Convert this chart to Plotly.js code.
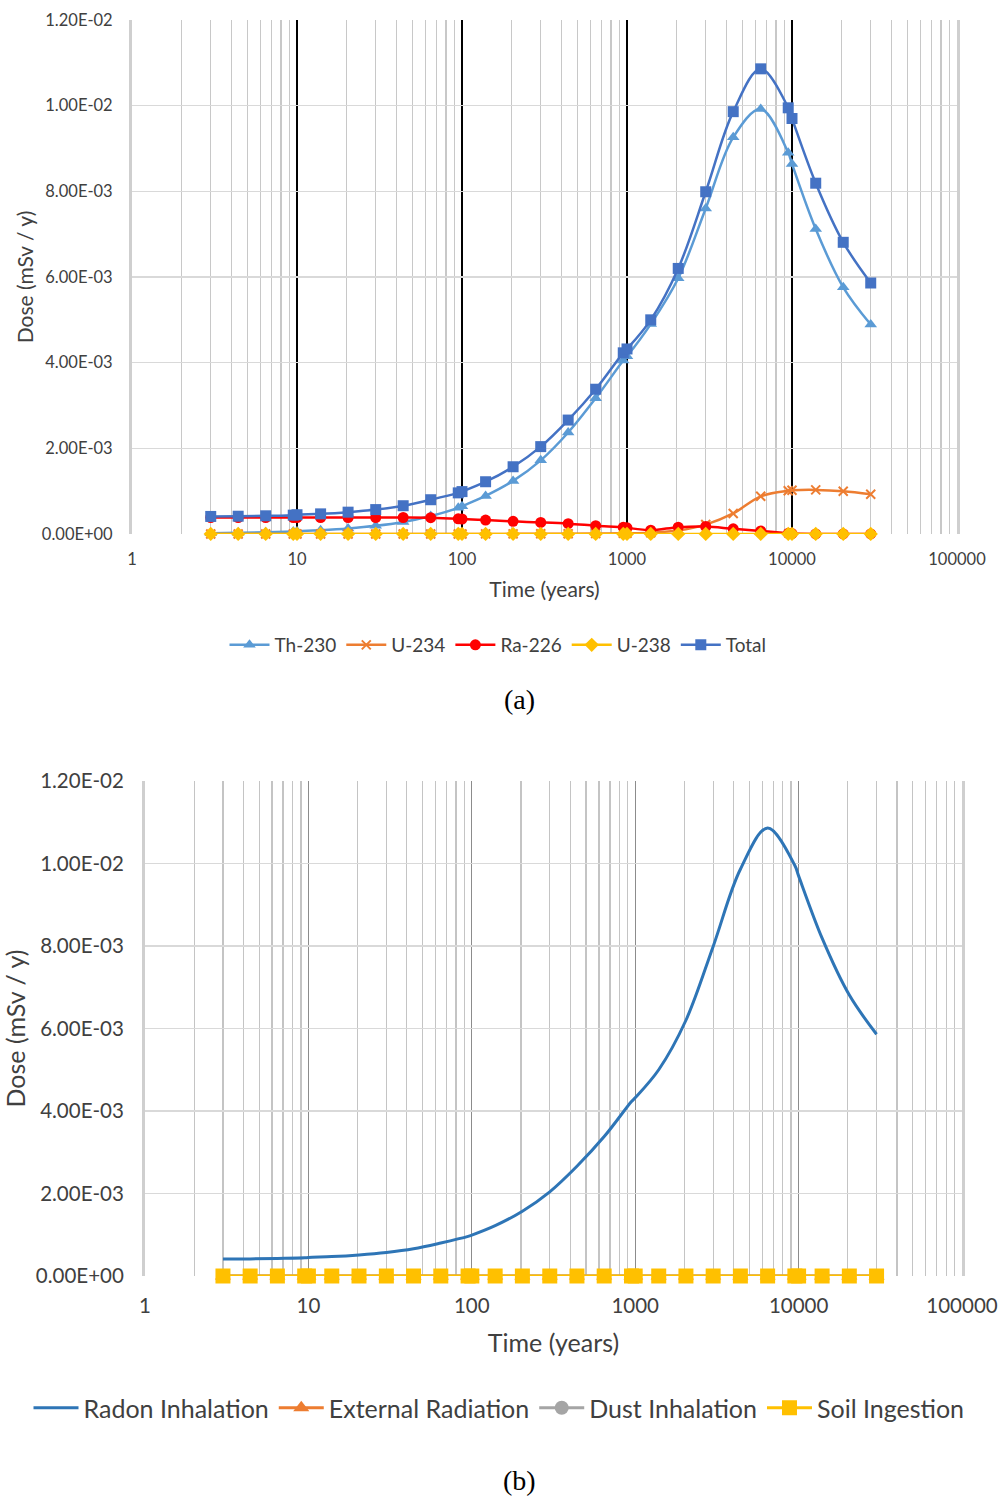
<!DOCTYPE html>
<html>
<head>
<meta charset="utf-8">
<script src="https://cdn.plot.ly/plotly-3.0.1.min.js"></script>
<style>
  html, body { margin: 0; padding: 0; background: #ffffff; }
  #chart { width: 998px; height: 1497px; }
</style>
</head>
<body>
<div id="chart"></div>
<script>
// Time points (years) shared by every series
const timeYears = [3, 4.4, 6.46, 9.49, 10, 13.9, 20.4, 30, 44, 64.6, 94.9, 100, 139, 204, 300,
  440, 646, 949, 1000, 1393, 2044, 3000, 4403, 6463, 9487, 10000, 13925, 20440, 30000];

// (a) dose by nuclide, mSv/y
const th230 = [2e-5, 3e-5, 4e-5, 6e-5, 6.5e-5, 9e-5, 1.3e-4, 1.9e-4, 2.8e-4, 4.2e-4, 6.1e-4, 6.5e-4,
  8.9e-4, 1.24e-3, 1.72e-3, 2.37e-3, 3.17e-3, 4.05e-3, 4.15e-3, 4.9e-3, 5.97e-3, 7.6e-3, 9.26e-3,
  9.92e-3, 8.9e-3, 8.64e-3, 7.12e-3, 5.76e-3, 4.89e-3];
const u234 = [0, 0, 0, 0, 0, 0, 0, 0, 0, 0, 1e-6, 1e-6, 2e-6, 3e-6, 4e-6, 6e-6, 1e-5, 1.6e-5, 1.7e-5,
  3e-5, 8e-5, 2.2e-4, 4.8e-4, 8.8e-4, 1.01e-3, 1.02e-3, 1.03e-3, 1.0e-3, 9.3e-4];
const ra226 = [3.85e-4, 3.85e-4, 3.85e-4, 3.85e-4, 3.85e-4, 3.85e-4, 3.85e-4, 3.85e-4, 3.85e-4, 3.8e-4,
  3.55e-4, 3.5e-4, 3.25e-4, 2.95e-4, 2.7e-4, 2.4e-4, 1.95e-4, 1.55e-4, 1.45e-4, 9e-5, 1.6e-4,
  1.75e-4, 1.2e-4, 7e-5, 1.5e-5, 1e-5, 2e-6, 1e-6, 1e-6];
const u238 = [2e-6, 2e-6, 2e-6, 2e-6, 2e-6, 2e-6, 2e-6, 2e-6, 2e-6, 2e-6, 2e-6, 2e-6, 2e-6, 2e-6, 2e-6,
  2e-6, 2e-6, 2e-6, 2e-6, 2e-6, 2e-6, 2e-6, 2e-6, 2e-6, 2e-6, 2e-6, 2e-6, 2e-6, 2e-6];
const total = [4.1e-4, 4.15e-4, 4.25e-4, 4.4e-4, 4.5e-4, 4.7e-4, 5.1e-4, 5.7e-4, 6.6e-4, 8.0e-4, 9.6e-4,
  9.9e-4, 1.22e-3, 1.57e-3, 2.04e-3, 2.66e-3, 3.38e-3, 4.23e-3, 4.32e-3, 5.0e-3, 6.2e-3, 7.99e-3,
  9.86e-3, 1.086e-2, 9.95e-3, 9.7e-3, 8.19e-3, 6.81e-3, 5.86e-3];

// (b) dose by pathway, mSv/y
const radonInhalation = [4.1e-4, 4.15e-4, 4.25e-4, 4.4e-4, 4.5e-4, 4.7e-4, 5.1e-4, 5.7e-4, 6.6e-4,
  8.0e-4, 9.6e-4, 9.9e-4, 1.22e-3, 1.57e-3, 2.04e-3, 2.66e-3, 3.38e-3, 4.23e-3, 4.32e-3, 5.0e-3,
  6.2e-3, 7.99e-3, 9.86e-3, 1.086e-2, 9.95e-3, 9.7e-3, 8.19e-3, 6.81e-3, 5.86e-3];
const externalRadiation = [0, 0, 0, 0, 0, 0, 0, 0, 0, 0, 0, 0, 0, 0, 0, 0, 0, 0, 0, 0, 0, 0, 0, 0, 0, 0, 0, 0, 0];
const dustInhalation = [0, 0, 0, 0, 0, 0, 0, 0, 0, 0, 0, 0, 0, 0, 0, 0, 0, 0, 0, 0, 0, 0, 0, 0, 0, 0, 0, 0, 0];
const soilIngestion = [0, 0, 0, 0, 0, 0, 0, 0, 0, 0, 0, 0, 0, 0, 0, 0, 0, 0, 0, 0, 0, 0, 0, 0, 0, 0, 0, 0, 0];

// Axis ticks
const doseTicks = [0, 0.002, 0.004, 0.006, 0.008, 0.010, 0.012];
const doseTickText = ['0.00E+00', '2.00E-03', '4.00E-03', '6.00E-03', '8.00E-03', '1.00E-02', '1.20E-02'];
const decadeTicks = [1, 10, 100, 1000, 10000, 100000];
const decadeTickText = ['1', '10', '100', '1000', '10000', '100000'];

// 2..9 x 10^n positions between the decades (minor grid)
const minorVals = [];
decadeTicks.slice(0, -1).forEach(d => {
  for (let k = 2; k <= 9; k++) minorVals.push(k * d);
});

const FONT = 'Lato, "Open Sans", sans-serif';
const W = 998, H = 1497;
const px = v => v / W;
const py = v => 1 - v / H;

function series(name, y, color, symbol, size, xa, ya, legend, mode, width) {
  return {
    type: 'scatter', mode: mode || 'lines+markers', name: name,
    x: timeYears, y: y, xaxis: xa, yaxis: ya, legend: legend, cliponaxis: false,
    line: { color: color, width: width || 2.5, shape: 'spline', smoothing: 1 },
    marker: { color: color, symbol: symbol, size: size, line: { width: symbol === 'x-thin' ? 2 : 0, color: color } }
  };
}

const traces = [
  series('Th-230', th230, '#5B9BD5', 'triangle-up', 11, 'x', 'y', 'legend'),
  series('U-234', u234, '#ED7D31', 'x-thin', 9, 'x', 'y', 'legend'),
  series('Ra-226', ra226, '#FF0000', 'circle', 11, 'x', 'y', 'legend'),
  series('U-238', u238, '#FFC000', 'diamond', 11, 'x', 'y', 'legend'),
  series('Total', total, '#4472C4', 'square', 11, 'x', 'y', 'legend'),

  series('Radon Inhalation', radonInhalation, '#2E75B6', 'circle', 0, 'x2', 'y2', 'legend2', 'lines', 3),
  series('External Radiation', externalRadiation, '#ED7D31', 'triangle-up', 14, 'x2', 'y2', 'legend2', 'lines+markers', 3),
  series('Dust Inhalation', dustInhalation, '#A5A5A5', 'circle', 14, 'x2', 'y2', 'legend2', 'lines+markers', 3),
  series('Soil Ingestion', soilIngestion, '#FFC000', 'square', 15, 'x2', 'y2', 'legend2', 'lines+markers', 3)
];

// Log time axis: decade grid in a strong colour, 2..9 grid lighter
const timeAxis = (dom, anchor, size, majorColor, minorColor, title, titleSize, standoff, labelGap) => ({
  type: 'log', range: [0, 5], domain: dom, anchor: anchor,
  tickmode: 'array', tickvals: decadeTicks, ticktext: decadeTickText,
  showgrid: true, gridcolor: majorColor, gridwidth: 1.4,
  minor: { tickmode: 'array', tickvals: minorVals, showgrid: true, gridcolor: minorColor, gridwidth: 1.3, ticks: '' },
  zeroline: false, showline: false, ticks: '', ticklabelstandoff: labelGap,
  tickfont: { family: FONT, size: size, color: '#404040' },
  title: { text: title, font: { family: FONT, size: titleSize, color: '#404040' }, standoff: standoff },
  automargin: false
});
// Dose axis; its mirrored side lines form the light left/right frame
const doseAxis = (dom, anchor, size, title, titleSize, standoff, labelGap) => ({
  range: [0, 0.012], domain: dom, anchor: anchor,
  tickmode: 'array', tickvals: doseTicks, ticktext: doseTickText,
  showgrid: true, gridcolor: '#D9D9D9', gridwidth: 1.3,
  zeroline: false, showline: true, mirror: true, linecolor: '#CFCFCF', linewidth: 3,
  ticks: '', ticklabelstandoff: labelGap,
  tickfont: { family: FONT, size: size, color: '#404040' },
  title: { text: title, font: { family: FONT, size: titleSize, color: '#404040' }, standoff: standoff },
  automargin: false
});

const xDomA = [px(132), px(957)], yDomA = [py(534), py(20)];
const xDomB = [px(145), px(962)], yDomB = [py(1276), py(781)];

const layout = {
  width: W, height: H,
  margin: { l: 0, r: 0, t: 0, b: 0 },
  paper_bgcolor: '#ffffff', plot_bgcolor: 'rgba(0,0,0,0)',
  font: { family: FONT, color: '#404040' },
  showlegend: true,
  xaxis: timeAxis(xDomA, 'y', 16.5, '#000000', '#C8C8C8', 'Time (years)', 21, 14, 13),
  yaxis: doseAxis(yDomA, 'x', 16.5, 'Dose (mSv / y)', 21, 3, 13),
  xaxis2: timeAxis(xDomB, 'y2', 20.5, '#8C8C8C', '#C4C4C4', 'Time (years)', 25, 18, 15),
  yaxis2: doseAxis(yDomB, 'x2', 20.5, 'Dose (mSv / y)', 25, 8, 14),
  legend: {
    orientation: 'h', x: px(498), xanchor: 'center', y: py(645), yanchor: 'middle',
    font: { family: FONT, size: 19, color: '#404040' }, bgcolor: 'rgba(0,0,0,0)', itemwidth: 40
  },
  legend2: {
    orientation: 'h', x: px(499), xanchor: 'center', y: py(1408), yanchor: 'middle',
    font: { family: FONT, size: 25, color: '#404040' }, bgcolor: 'rgba(0,0,0,0)', itemwidth: 45
  },
  annotations: [
    { text: '(a)', xref: 'paper', yref: 'paper', x: px(519), y: py(700), xanchor: 'center', yanchor: 'middle',
      showarrow: false, font: { family: '"Liberation Serif", serif', size: 28, color: '#000000' } },
    { text: '(b)', xref: 'paper', yref: 'paper', x: px(519), y: py(1480), xanchor: 'center', yanchor: 'middle',
      showarrow: false, font: { family: '"Liberation Serif", serif', size: 28, color: '#000000' } }
  ]
};

Plotly.newPlot('chart', traces, layout, { displayModeBar: false, staticPlot: true });
</script>
</body>
</html>
